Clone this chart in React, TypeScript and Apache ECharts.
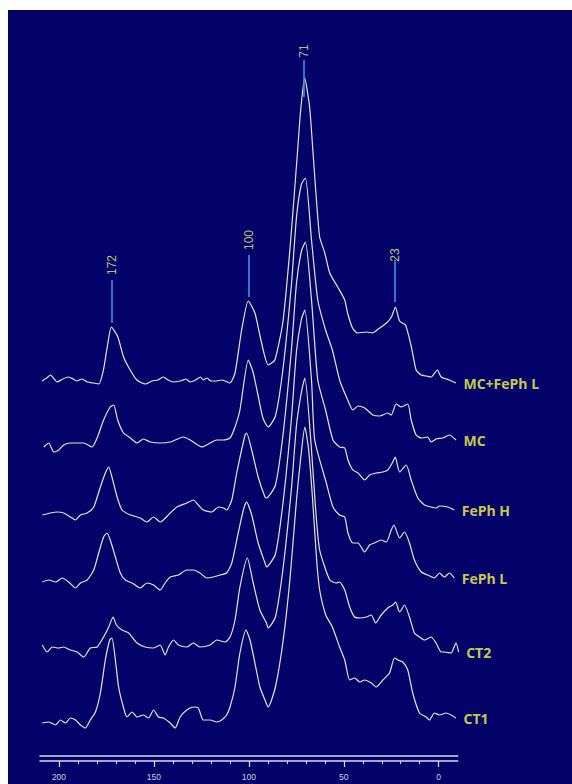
import React, { useEffect, useRef } from "react";
import * as echarts from "echarts";

// Trace names (top to bottom) and vertical offsets (value units)
const traceNames = ["MC+FePh L", "MC", "FePh H", "FePh L", "CT2", "CT1"];
const traceOffsets = [375, 310, 243, 177, 109, 34];

// [ppm, intensity above baseline]
const mcFephL: [number, number][] = [
  [209, 0], [206.5, 3], [204.5, 6], [202.5, 2], [201, -1], [198, 2], [195, 4], [192.5, 2], [190.5, 0], [188, 2], [185, -1], [182, -2], [179, -3],
  [176.6, 11], [174.5, 35], [172.4, 54], [169, 44], [166, 24], [162.5, 11], [159, 1], [154.5, -3], [151, 0], [148, 1], [145, 4], [142.5, 1],
  [140, -1], [136, 0], [133, 2], [131, -1], [128, 1], [125.5, 4], [124, 1], [122, 3], [120, 0], [117.8, 0], [114, 1], [110, -2], [107.3, 8],
  [103.8, 51], [100.3, 80], [96.8, 68], [94, 44], [89.8, 16], [86.3, 21], [82, 60], [78, 140], [74.3, 231], [72.7, 271], [70.6, 303],
  [68, 274], [66.3, 231], [64.4, 181], [62.7, 144], [60, 128], [57.4, 108], [53.2, 94], [49.5, 81], [48, 68], [45.4, 53], [42.7, 48],
  [38, 49], [34.9, 48], [31.1, 53], [27.5, 58], [24.9, 64], [22.8, 74], [20.6, 60], [17.5, 56], [14.5, 35], [11.9, 11], [9.2, 6],
  [6.5, 5], [4, 4], [0.7, 11], [-1.3, 4], [-5.6, 1], [-9.1, -2],
];
const mc: [number, number][] = [
  [208, -1], [205.4, 3], [202.7, -6], [200.1, -4], [197.5, 1], [194, 3], [190.4, 3], [187, 3], [182.6, -1], [179.9, 8], [176.5, 26],
  [173, 39], [171.2, 41], [169.1, 26], [166, 13], [162.4, 8], [158.9, 3], [155.5, 7], [151.9, 4], [146.7, 3], [141.4, 4], [134.5, 9],
  [130.9, 6], [124.8, -1], [120.4, 3], [116.9, 6], [113.4, 6], [109.9, 8], [107.3, 19], [104.7, 36], [100.3, 86], [97.8, 74], [95.2, 51],
  [92.6, 28], [89.8, 19], [86, 30], [81.9, 79], [77.5, 163], [74.9, 229], [72.3, 262], [70.2, 268], [67, 206], [63.7, 146], [59.6, 116],
  [56, 96], [52.2, 66], [48.6, 49], [45.2, 36], [42.5, 40], [39, 38], [34.7, 31], [31.1, 30], [26.8, 33], [25, 31], [22.4, 42],
  [19.7, 39], [16.3, 42], [14.5, 26], [11.9, 11], [9.2, 8], [5.8, 9], [4, 4], [1.4, 7], [-2.1, 8], [-5.6, 11], [-9.1, 6],
];
const fephH: [number, number][] = [
  [208.8, -2], [204.5, 0], [200.9, 1], [197.5, 0], [194, -4], [191.3, -7], [188.7, -2], [185.2, 0], [181.7, 6], [178.2, 26], [175.6, 40],
  [173.8, 46], [172.1, 36], [169.4, 16], [166.8, 3], [162.4, -2], [157.2, -5], [153.7, -9], [150.2, -4], [146.7, -9], [141.4, 0],
  [137.9, 6], [132.7, 10], [129.2, 13], [126.6, 8], [124, 3], [119.5, 1], [116.1, 6], [113.4, 5], [111.7, 3], [109, 13], [106.4, 40],
  [102, 78], [101.2, 80], [98.5, 63], [95.1, 36], [91.5, 16], [90.7, 15], [86, 28], [81.9, 80], [77.5, 165], [74.9, 230], [72.3, 262],
  [70.2, 271], [67, 213], [63.7, 133], [59.6, 103], [55.7, 73], [52.2, 66], [49.5, 65], [47.8, 53], [45.2, 43], [42.5, 40], [39, 33],
  [36.4, 38], [32.9, 40], [29.4, 41], [26.8, 43], [24.2, 51], [22.9, 56], [20.6, 41], [17.1, 48], [14.5, 33], [11, 15], [7.5, 8],
  [4, 6], [1.4, 5], [-0.4, 7], [-4.7, 6], [-8.2, 3],
];
const fephL: [number, number][] = [
  [208.8, -3], [205.4, -1], [201.8, -3], [198.3, 1], [194.9, -3], [191.3, -9], [188.7, -4], [185.2, -1], [181.7, 9], [179.1, 26],
  [176.5, 42], [174.7, 46], [173, 39], [170.3, 22], [167.7, 6], [165.1, -1], [161.5, -4], [157.2, -9], [153.7, -4], [150.2, -6],
  [146.7, -11], [144.1, -4], [141.4, 2], [137.1, 4], [132.7, 9], [129.2, 9], [125.7, 6], [122.2, 1], [118.7, 2], [115.2, 4], [111.7, 6],
  [109, 16], [105.6, 46], [102.9, 69], [101.2, 77], [98.5, 64], [95.1, 36], [91.5, 16], [90.7, 12], [86, 25], [81.9, 78], [77.5, 162],
  [74.9, 228], [72.3, 260], [70.5, 269], [67, 199], [65.3, 139], [59.2, 96], [55.7, 72], [52.2, 64], [49.5, 62], [47.8, 46], [45.2, 36],
  [42.5, 36], [39, 27], [36.4, 34], [33.8, 36], [30.3, 39], [27.6, 37], [25, 49], [23.6, 54], [20.6, 41], [18, 47], [15.4, 36],
  [12.8, 19], [9.2, 7], [5.8, 4], [2.3, 1], [-0.4, 6], [-3, 2], [-5.6, 6], [-8.2, 1],
];
const ct2: [number, number][] = [
  [208.8, 2], [206.2, -5], [203.6, 0], [200.1, -1], [197.5, 0], [194, -3], [190.4, -5], [187, -10], [183.5, -1], [179.9, 0], [176.5, 10],
  [173.8, 20], [171.5, 30], [169.8, 22], [166.8, 17], [163.3, 14], [158.9, 4], [154.6, 0], [150.2, -1], [146.7, 2], [144.1, -8],
  [142.3, 0], [139.7, 7], [137.1, 2], [132.7, 0], [129.2, 4], [125.7, 0], [120.4, 2], [116.9, 7], [112.6, 5], [109.9, 10], [107.3, 27],
  [104.7, 60], [100.8, 89], [97.7, 64], [94.2, 37], [90.7, 24], [89.8, 19], [86, 30], [81.9, 80], [77.5, 160], [74.9, 222], [72.3, 255],
  [70.5, 269], [67, 197], [64.8, 137], [62.7, 97], [57.4, 67], [53.9, 64], [52.2, 65], [49.5, 57], [46.9, 40], [44.3, 30], [41.6, 29],
  [38.1, 30], [35.5, 32], [33.2, 24], [30.3, 32], [26.8, 39], [24.2, 42], [22.7, 45], [20.6, 35], [18, 42], [15.4, 30], [12.8, 14],
  [10.1, 10], [7.5, 7], [4, 10], [1.4, 4], [-1.3, -5], [-3, -5], [-6.5, -6], [-9.1, 4], [-10.5, -5],
];
const ct1: [number, number][] = [
  [208.8, -1], [205.4, 0], [201.8, -3], [199.2, 2], [196.6, -1], [194, 4], [191.3, 2], [188.7, -3], [186.1, -6], [183.5, 2], [180.8, 10],
  [178.2, 29], [175.6, 62], [173.3, 82], [172.1, 84], [170.3, 62], [168.6, 35], [166.1, 15], [164.2, 5], [161.5, 10], [158.9, 5],
  [155.5, 7], [152.8, 4], [150.2, 12], [147.6, 5], [145, 4], [141.4, -1], [138.8, -6], [136.2, 5], [132.7, 12], [129.2, 15], [126.6, 14],
  [124, 2], [120.4, 2], [116.9, 0], [114.3, 2], [111.7, 7], [109.9, 15], [107.3, 35], [104.7, 69], [101.5, 92], [99.4, 82], [96.8, 59],
  [94.2, 35], [91.5, 22], [89.8, 15], [86, 35], [81.9, 82], [78.4, 142], [74.9, 222], [72.8, 262], [70.5, 295], [68.5, 272],
  [66.4, 222], [64.3, 162], [62.7, 132], [59.5, 107], [56, 95], [52.2, 75], [49.5, 62], [46.9, 42], [44.3, 44], [41.6, 40], [39, 42],
  [35.5, 39], [32.9, 35], [29.4, 42], [25.9, 49], [23.3, 64], [21.5, 62], [18.9, 60], [16.3, 52], [13.7, 29], [10.1, 9], [6.6, 5],
  [4.9, 2], [2.3, 9], [-0.4, 7], [-3.9, 9], [-6.5, 7], [-9.1, 4],
];
const traces = [mcFephL, mc, fephH, fephL, ct2, ct1];

// Peak annotations (ppm), labels, line extents and label centres (value units)
const peakPositions = [172, 100, 71, 23];
const peakLabels = ["172", "100", "71", "23"];
const peakLineBottom = [433, 459, 659, 454];
const peakLineTop = [476, 501, 696, 496];
const peakLabelCenter = [491, 516, 705, 501];

// Axis ticks
const majorTicks = [200, 150, 100, 50, 0];
const minorTicks = [190, 180, 170, 160, 140, 130, 120, 110, 90, 80, 70, 60, 40, 30, 20, 10];

const AXIS_COLOR = "#dcdcec";

export default function App() {
  const ref = useRef<HTMLDivElement>(null);
  useEffect(() => {
    if (!ref.current) return;
    const chart = echarts.init(ref.current, null, { renderer: "svg" });
    const baseX = {
      type: "value" as const,
      min: -10,
      max: 210,
      inverse: true,
      position: "bottom" as const,
      splitLine: { show: false },
    };
    const option: any = {
      animation: false,
      backgroundColor: "#03036a",
      grid: { left: 32, right: 114.3, top: 0, bottom: 28 },
      xAxis: [
        {
          ...baseX,
          axisLine: { show: true, lineStyle: { color: AXIS_COLOR, width: 1.5 } },
          axisTick: { show: false },
          axisLabel: { show: false },
        },
        {
          ...baseX,
          offset: 5,
          axisLine: { show: true, lineStyle: { color: AXIS_COLOR, width: 1.5 } },
          axisTick: { show: true, customValues: majorTicks, length: 6, lineStyle: { color: AXIS_COLOR, width: 1.2 } },
          axisLabel: {
            show: true,
            customValues: majorTicks,
            margin: 11,
            color: "#cfcfdd",
            fontSize: 8.5,
            fontFamily: "Liberation Sans",
          },
        },
        {
          ...baseX,
          offset: 5,
          axisLine: { show: false },
          axisTick: { show: true, customValues: minorTicks, length: 3, lineStyle: { color: AXIS_COLOR, width: 1 } },
          axisLabel: { show: false },
        },
      ],
      yAxis: { type: "value", min: 0, max: 746, show: false },
      series: [
        ...traces.map((d, i) => ({
          type: "line",
          name: traceNames[i],
          data: d.map(([p, h]) => [p, h + traceOffsets[i]]),
          symbol: "none",
          showSymbol: false,
          smooth: 0.2,
          clip: false,
          silent: true,
          z: 2,
          lineStyle: { color: "#e6e6d2", width: 1.2 },
          ...(i === 0
            ? {
                markLine: {
                  silent: true,
                  symbol: "none",
                  label: { show: false },
                  lineStyle: { color: "#4b8ee2", width: 1.6, type: "solid" },
                  data: peakPositions.map((p, k) => [
                    { coord: [p, peakLineBottom[k]] },
                    { coord: [p, peakLineTop[k]] },
                  ]),
                },
              }
            : {}),
        })),
        {
          type: "scatter",
          data: peakPositions.map((p, k) => [p, peakLabelCenter[k]]),
          symbolSize: 1,
          silent: true,
          clip: false,
          itemStyle: { color: "rgba(0,0,0,0)" },
          label: {
            show: true,
            position: "inside",
            rotate: 90,
            formatter: (prm: any) => peakLabels[prm.dataIndex],
            color: "#f0f07a",
            fontSize: 12,
            fontFamily: "Liberation Sans",
          },
          z: 5,
        },
        {
          type: "scatter",
          data: traces.map((d, i) => {
            const last = d[d.length - 1];
            return [last[0], last[1] + traceOffsets[i]];
          }),
          symbolSize: 1,
          silent: true,
          clip: false,
          itemStyle: { color: "rgba(0,0,0,0)" },
          label: {
            show: true,
            position: "right",
            distance: 7,
            formatter: (prm: any) => traceNames[prm.dataIndex],
            color: "#ffff44",
            fontSize: 14,
            fontWeight: "bold",
            fontFamily: "Open Sans",
          },
          z: 5,
        },
      ],
    };
    chart.setOption(option);
    return () => chart.dispose();
  }, []);
  return (
    <div
      ref={ref}
      style={{ position: "absolute", left: 8, top: 10, width: 564, height: 774 }}
    />
  );
}
